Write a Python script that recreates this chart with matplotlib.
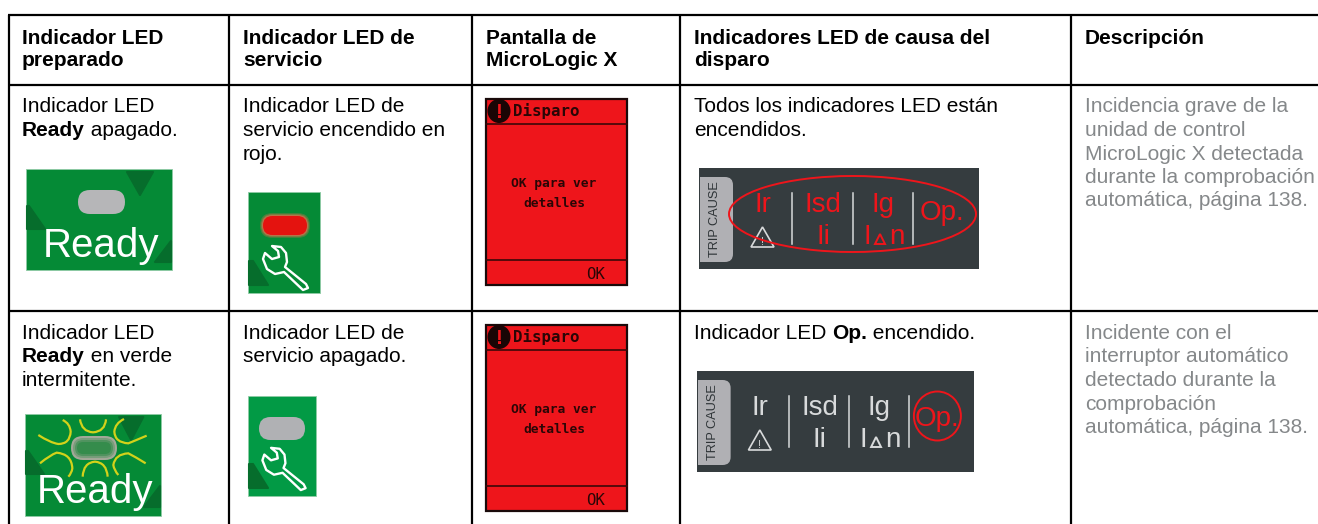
import matplotlib
matplotlib.use('Agg')
import matplotlib.pyplot as plt
from matplotlib.patches import Rectangle, FancyBboxPatch, Polygon, Ellipse, PathPatch
from matplotlib.path import Path

plt.rcParams['font.family'] = ['Liberation Sans', 'DejaVu Sans']

W, H = 1318, 524
col_lines = [9, 229, 472, 680, 1071]
row_lines = [15, 84.5, 311]
col_text = [22, 243, 486, 694, 1085]

headers = [
    ['Indicador LED', 'preparado'],
    ['Indicador LED de', 'servicio'],
    ['Pantalla de', 'MicroLogic X'],
    ['Indicadores LED de causa del', 'disparo'],
    ['Descripción'],
]
# each line is a list of (text, bold) runs
row1 = [
    [[('Indicador LED', 0)], [('Ready', 1), (' apagado.', 0)]],
    [[('Indicador LED de', 0)], [('servicio encendido en', 0)], [('rojo.', 0)]],
    [[('Todos los indicadores LED están', 0)], [('encendidos.', 0)]],
]
row2 = [
    [[('Indicador LED', 0)], [('Ready', 1), (' en verde', 0)], [('intermitente.', 0)]],
    [[('Indicador LED de', 0)], [('servicio apagado.', 0)]],
    [[('Indicador LED ', 0), ('Op.', 1), (' encendido.', 0)]],
]
desc1 = ['Incidencia grave de la', 'unidad de control', 'MicroLogic X detectada',
         'durante la comprobación', 'automática, página 138.']
desc2 = ['Incidente con el', 'interruptor automático', 'detectado durante la',
         'comprobación', 'automática, página 138.']

GREEN = '#058a36'
GREEN2 = '#029a45'
DARK_GREEN = '#066d2c'
GREY_LED = '#b6b6b8'
RED = '#ee151b'
SLATE = '#353c3f'
FS = 15

fig = plt.figure(figsize=(W / 100, H / 100), dpi=100)
ax = fig.add_axes([0, 0, 1, 1])
ax.set_xlim(0, W)
ax.set_ylim(H, 0)
ax.axis('off')
renderer = fig.canvas.get_renderer()


def write_runs(x, y, runs, color='black'):
    for txt, bold in runs:
        t = ax.text(x, y, txt, fontsize=FS, va='baseline', ha='left', color=color,
                    fontweight='bold' if bold else 'normal')
        x += t.get_window_extent(renderer).width


def write_cell(x, y, lines, color='black', step=23.5):
    for i, runs in enumerate(lines):
        write_runs(x, y + i * step, runs, color)


def pill(x0, y0, x1, y1, color, alpha=1.0, z=3):
    r = (y1 - y0) / 2
    p = FancyBboxPatch((x0 + r, y0 + r), x1 - x0 - 2 * r, 0.01,
                       boxstyle='round,pad=%f,rounding_size=%f' % (r, r),
                       fc=color, ec='none', alpha=alpha, zorder=z)
    ax.add_patch(p)


def tri(pts):
    ax.add_patch(Polygon(pts, closed=True, fc=DARK_GREEN, ec=DARK_GREEN, lw=1.5,
                         joinstyle='round', zorder=2))


def wrench(x, y, s=1.0):
    pts = [(24, 54), (33, 55), (38, 61), (39, 70), (37, 75), (58, 92), (60, 96), (55, 98),
           (36, 80), (27, 82), (19, 77), (15, 67), (17, 61), (24, 67), (31, 65), (30, 59)]
    pts = [(x + a * s, y + b * s) for a, b in pts]
    ax.add_patch(Polygon(pts, closed=True, fc='none', ec='white', lw=1.7, joinstyle='round', zorder=4))


def ready_panel(x0, y0, x1, y1, fs):
    s = (x1 - x0) / 146
    ax.add_patch(Rectangle((x0, y0), x1 - x0, y1 - y0, fc=GREEN, ec='#8fcba5', lw=0.6, zorder=1))
    tri([(x0 + 101 * s, y0 + 3), (x0 + 127 * s, y0 + 3), (x0 + 114 * s, y0 + 26)])
    tri([(x0 + 1, y0 + 60), (x0 + 1, y0 + 37), (x0 + 3, y0 + 37), (x0 + 19, y0 + 60)])
    tri([(x1 - 1, y0 + 93), (x1 - 1, y0 + 72), (x1 - 17, y0 + 93)])
    ax.text((x0 + x1) / 2 + 2 * s, y1 - 13, 'Ready', color='white', fontsize=fs,
            ha='center', va='baseline', zorder=4)


def service_panel(x0, y0, x1, y1, color):
    ax.add_patch(Rectangle((x0, y0), x1 - x0, y1 - y0, fc=color, ec='#8fcba5', lw=0.6, zorder=1))
    tri([(x0 + 1, y1 - 8), (x0 + 1, y1 - 32), (x0 + 5, y1 - 32), (x0 + 20, y1 - 8)])


def screen(y0):
    x0, x1 = 485.5, 626.5
    ink = '#2a0606'
    ax.add_patch(Rectangle((x0, y0), x1 - x0, 186, fc=RED, ec='#1a0a0a', lw=1.6, zorder=1))
    ax.plot([x0, x1], [y0 + 25, y0 + 25], color='#3a0808', lw=1.2, zorder=2)
    ax.plot([x0, x1], [y0 + 161, y0 + 161], color='#3a0808', lw=1.2, zorder=2)
    ax.add_patch(Ellipse((x0 + 13.5, y0 + 12), 23, 24, fc='#1a0505', ec='none', zorder=2))
    ax.text(x0 + 13.5, y0 + 19, '!', color=RED, fontsize=15, fontweight='bold', ha='center',
            va='baseline', zorder=3)
    mono = ['DejaVu Sans Mono']
    ax.text(x0 + 27.5, y0 + 17, 'Disparo', color=ink, fontsize=11.3, fontweight='bold',
            family=mono, va='baseline', zorder=3)
    ax.text(554, y0 + 88, 'OK para ver', color=ink, fontsize=9.3, family=mono, fontweight='bold',
            ha='center', va='baseline', zorder=3)
    ax.text(554, y0 + 108, 'detalles', color=ink, fontsize=9.3, family=mono, fontweight='bold',
            ha='center', va='baseline', zorder=3)
    ax.text(596, y0 + 180, 'OK', color=ink, fontsize=11.3, family=mono,
            ha='center', va='baseline', zorder=3)


def trip_panel(x0, y0, w, lit_all):
    sx = w / 280
    x = lambda v: x0 + v * sx
    y = lambda v: y0 + v
    ax.add_patch(Rectangle((x0, y0), w, 101, fc=SLATE, ec='none', zorder=1))
    ax.add_patch(FancyBboxPatch((x(1), y(9)), 33 * sx, 85, boxstyle='round,pad=0,rounding_size=8',
                                fc='#b0b0b4', ec='none', zorder=2))
    ax.add_patch(Rectangle((x(1), y(9)), 12, 85, fc='#b0b0b4', ec='none', zorder=2))
    ax.text(x(16), y(51), 'TRIP CAUSE', rotation=90, fontsize=9.2, color='#2e3437', ha='center',
            va='center', zorder=3)
    on = RED if lit_all else '#d8dadb'
    big = 20
    for label, cx, cy in [('Ir', 64, 44), ('Isd', 124, 44), ('Ig', 184, 44), ('Ii', 124, 76),
                          ('I', 168, 76), ('n', 198, 76)]:
        ax.text(x(cx), y(cy), label, color=on, fontsize=big, ha='center', va='baseline', zorder=3)
    ax.add_patch(Polygon([(x(176), y(76)), (x(181), y(66)), (x(186), y(76))], closed=True,
                         fc='none', ec=on, lw=1.4, zorder=3))
    ax.add_patch(Polygon([(x(52), y(79)), (x(63.5), y(59)), (x(75), y(79))], closed=True,
                         fc='none', ec='#d8dadb', lw=1.2, zorder=3))
    ax.text(x(63.5), y(77), '!', color='#d8dadb', fontsize=8, ha='center', va='baseline', zorder=3)
    for vx in [93, 154, 214]:
        ax.plot([x(vx), x(vx)], [y(25), y(76)], color='#d8dadb', lw=1.1, zorder=3)
    ax.text(x(243), y(52 if lit_all else 55), 'Op.', color=RED, fontsize=big, ha='center',
            va='baseline', zorder=3)
    if lit_all:
        ax.add_patch(Ellipse((x(153.5), y(46)), 247 * sx, 76, fc='none', ec=RED, lw=1.4, zorder=4))
    else:
        ax.add_patch(Ellipse((x(243), y(45)), 47, 49, fc='none', ec=RED, lw=1.4, zorder=4))


def ray(pts):
    verts = [(a / 3, 300 + b / 3) for a, b in pts]
    codes = [Path.MOVETO] + [Path.CURVE3] * (len(verts) - 1)
    ax.add_patch(PathPatch(Path(verts, codes), fc='none', ec='#d3d21a', lw=1.6, zorder=3))


def flash_rays():
    ray([(115, 405), (150, 428), (175, 432), (210, 432), (212, 395), (210, 370), (188, 360)])
    ray([(440, 407), (405, 422), (385, 430), (345, 428), (343, 395), (345, 370), (372, 357)])
    ray([(120, 490), (150, 465), (170, 458), (215, 462), (217, 505), (215, 520), (205, 530)])
    ray([(437, 490), (405, 470), (385, 460), (345, 462), (340, 495), (342, 510), (355, 525)])
    ray([(240, 358), (245, 395), (279, 397), (315, 395), (318, 358)])
    ray([(248, 530), (250, 488), (285, 485), (320, 488), (323, 530)])


# table rules
for xv in col_lines:
    ax.plot([xv, xv], [row_lines[0], H], color='black', lw=1.6, zorder=5, solid_capstyle='butt')
for yv in row_lines:
    ax.plot([col_lines[0] - 1, W], [yv, yv], color='black', lw=1.6, zorder=5, solid_capstyle='butt')

# header
for xt, lines in zip(col_text, headers):
    write_cell(xt, 43.5, [[(l, 1)] for l in lines], step=23)

# body text
for xt, lines in zip([col_text[0], col_text[1], col_text[3]], row1):
    write_cell(xt, 112.5, lines)
for xt, lines in zip([col_text[0], col_text[1], col_text[3]], row2):
    write_cell(xt, 339, lines)
write_cell(col_text[4], 112.5, [[(l, 0)] for l in desc1], color='#85888a')
write_cell(col_text[4], 339, [[(l, 0)] for l in desc2], color='#85888a')

# row 1 pictures
ready_panel(26, 169, 172, 270, 29)
pill(78, 190, 125, 214, GREY_LED)
service_panel(248, 192, 320, 293, GREEN)
for d, a in [(3, 0.25), (2, 0.35), (1, 0.5)]:
    pill(263 - d, 216 - d, 307 + d, 235 + d, '#f07050', alpha=a)
pill(263, 216, 307, 235, '#e4130f')
wrench(248, 192)
screen(99)
trip_panel(699, 168, 280, True)

# row 2 pictures
ready_panel(25, 414, 161, 516, 29)
pill(71, 436, 117, 460, '#a3a898')
for d, a in [(2, 0.35), (4, 0.5), (6, 0.7)]:
    pill(71 + d, 436 + d, 117 - d, 460 - d, '#2a8a45', alpha=a, z=4)
flash_rays()
service_panel(248, 396, 316, 496, GREEN2)
pill(259, 417, 305, 440, '#b0b1b4')
wrench(248, 396, 0.96)
screen(325)
trip_panel(697, 371, 277, False)

fig.savefig('out.png', dpi=100)
